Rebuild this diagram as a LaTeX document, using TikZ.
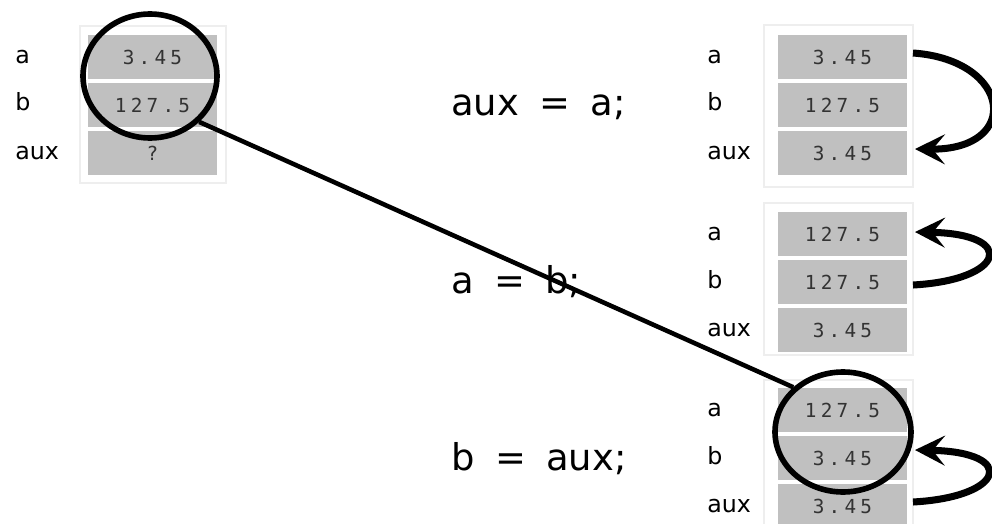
\documentclass[tikz,border=0pt]{standalone}
\usepackage{fontspec}
\usetikzlibrary{shapes.geometric,arrows.meta}
\newfontfamily\labfont{DejaVu Sans}
\newfontfamily\cellfont[LetterSpace=22]{DejaVu Sans Mono}
\definecolor{cellgray}{RGB}{192,192,192}
\definecolor{framegray}{RGB}{238,238,238}
\tikzset{
  cell/.style={fill=cellgray, minimum width=2.6cm, minimum height=0.9cm, inner sep=0pt,
    font=\cellfont\fontsize{11pt}{13pt}\selectfont, text=black!80},
  lab/.style={anchor=base west, inner sep=0pt, font=\labfont\fontsize{13.5pt}{16pt}\selectfont},
  stmt/.style={anchor=base west, inner sep=0pt, font=\labfont\fontsize{21pt}{24pt}\selectfont},
  frame/.style={draw=framegray, line width=1pt},
  lens/.style={draw=black, ellipse, line width=3.2pt, inner sep=0pt},
  link/.style={draw=black, line width=2.6pt},
  loop/.style={draw=black, line width=4pt, -{Stealth[length=17pt,width=17pt,inset=7pt]}}
}
\newcommand{\stsp}{\hspace{0.55em}}
\begin{document}
\begin{tikzpicture}[x=0.02cm,y=-0.02cm]
\useasboundingbox[fill=white] (0,0) rectangle (992,524);

% frames
\draw[frame] (80,26) rectangle (226,183);
\draw[frame] (764,25) rectangle (913,187);
\draw[frame] (764,203) rectangle (913,355);
\draw[frame] (764,380) rectangle (913,530);

% left block
\node[cell] (La) at (152.5,57) {3.45};
\node[cell] (Lb) at (152.5,105) {127.5};
\node[cell] (Lx) at (152.5,153) {?};
\node[lab] (lLa) at (15,63) {a};
\node[lab] (lLb) at (15,111) {b};
\node[lab] (lLx) at (15,159) {aux};

% block 1
\node[cell] (Aa) at (842.5,57) {3.45};
\node[cell] (Ab) at (842.5,105) {127.5};
\node[cell] (Ax) at (842.5,153) {3.45};
\node[lab] (lAa) at (707,63) {a};
\node[lab] (lAb) at (707,111) {b};
\node[lab] (lAx) at (707,159) {aux};
\node[stmt] (s1) at (451,115) {aux\stsp=\stsp a;};

% block 2
\node[cell] (Ba) at (842.5,234) {127.5};
\node[cell] (Bb) at (842.5,282) {127.5};
\node[cell] (Bx) at (842.5,330) {3.45};
\node[lab] (lBa) at (707,240) {a};
\node[lab] (lBb) at (707,288) {b};
\node[lab] (lBx) at (707,336) {aux};
\node[stmt] (s2) at (451,293) {a\stsp=\stsp b;};

% block 3
\node[cell] (Ca) at (842.5,410) {127.5};
\node[cell] (Cb) at (842.5,458) {3.45};
\node[cell] (Cx) at (842.5,506) {3.45};
\node[lab] (lCa) at (707,416) {a};
\node[lab] (lCb) at (707,464) {b};
\node[lab] (lCx) at (707,512) {aux};
\node[stmt] (s3) at (451,470) {b\stsp=\stsp aux;};

% lenses
\node[lens, minimum width=2.68cm, minimum height=2.48cm] (Lc) at (150,76) {};
\node[lens, minimum width=2.72cm, minimum height=2.4cm] (Rc) at (843,432) {};
\draw[link] (Lc.-43) -- (Rc.138);

% loops
\coordinate (A1) at (913,53);
\coordinate (A2) at (915,149);
\draw[loop] (A1) .. controls (1012,60) and (1022,150) .. (A2);
\coordinate (B1) at (913,285);
\coordinate (B2) at (915,232);
\draw[loop] (B1) .. controls (1005,280) and (1018,234) .. (B2);
\coordinate (C1) at (913,502);
\coordinate (C2) at (915,450);
\draw[loop] (C1) .. controls (1005,497) and (1018,452) .. (C2);
\end{tikzpicture}
\end{document}
